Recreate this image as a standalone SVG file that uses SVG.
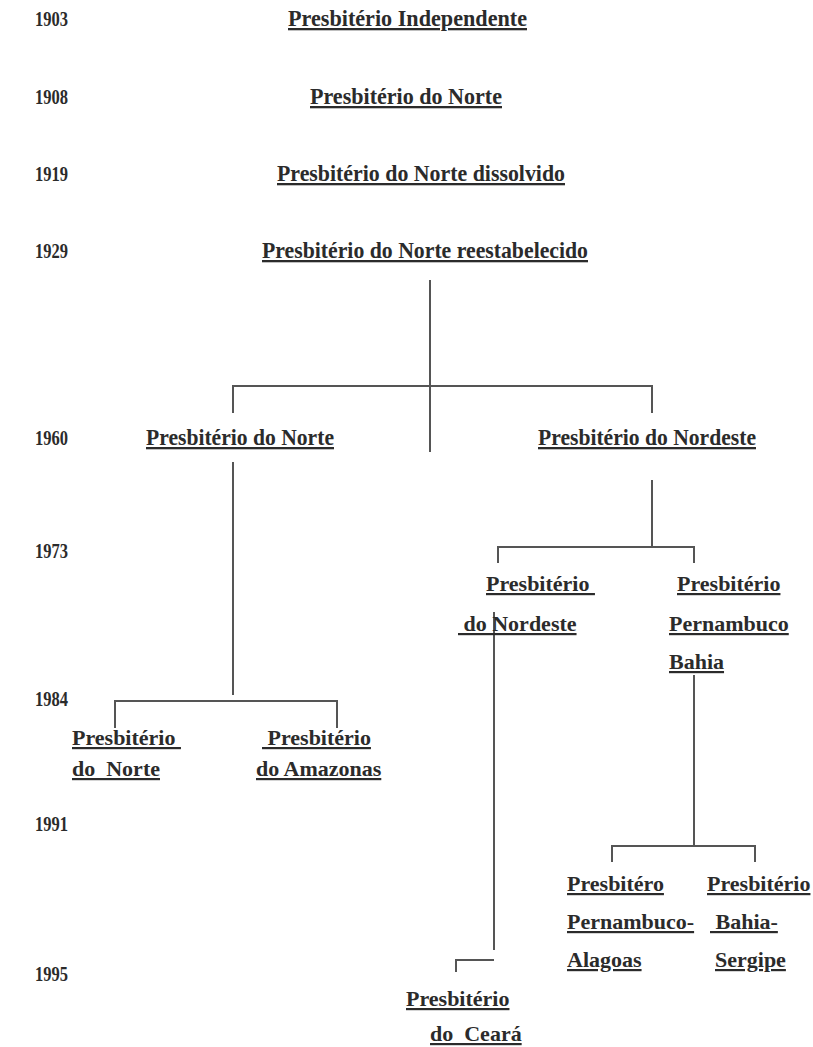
<svg xmlns="http://www.w3.org/2000/svg" width="813" height="1047" viewBox="0 0 813 1047">
<style>
.bg{fill:#ffffff}
.yr{font-family:"Liberation Serif","Times New Roman",serif;font-weight:bold;font-size:20px;fill:#2b2b2b}
.lb{font-family:"Liberation Serif","Times New Roman",serif;font-weight:bold;font-size:22px;fill:#2b2b2b;text-decoration:underline;text-decoration-thickness:2px;white-space:pre}
.big{font-size:23px}
.c{fill:none;stroke:#555555;stroke-width:2}
</style>
<rect class="bg" x="0" y="0" width="813" height="1047"/>
<g id="years">
<text class="yr" x="35" y="26" textLength="33" lengthAdjust="spacingAndGlyphs">1903</text>
<text class="yr" x="35" y="104" textLength="33" lengthAdjust="spacingAndGlyphs">1908</text>
<text class="yr" x="35" y="181" textLength="33" lengthAdjust="spacingAndGlyphs">1919</text>
<text class="yr" x="35" y="258" textLength="33" lengthAdjust="spacingAndGlyphs">1929</text>
<text class="yr" x="35" y="445" textLength="33" lengthAdjust="spacingAndGlyphs">1960</text>
<text class="yr" x="35" y="558" textLength="33" lengthAdjust="spacingAndGlyphs">1973</text>
<text class="yr" x="35" y="706" textLength="33" lengthAdjust="spacingAndGlyphs">1984</text>
<text class="yr" x="35" y="831" textLength="33" lengthAdjust="spacingAndGlyphs">1991</text>
<text class="yr" x="35" y="981" textLength="33" lengthAdjust="spacingAndGlyphs">1995</text>
</g>
<g id="connectors">
<path class="c" d="M430,280 V452"/>
<path class="c" d="M233,413 V386 H652 V413"/>
<path class="c" d="M233,462 V695"/>
<path class="c" d="M115,728 V701 H337 V728"/>
<path class="c" d="M652,480 V547"/>
<path class="c" d="M498,563 V547 H694 V563"/>
<path class="c" d="M494,612 V950"/>
<path class="c" d="M456,972 V960 H494"/>
<path class="c" d="M694,675 V846"/>
<path class="c" d="M612,862 V846 H755 V862"/>
</g>
<g id="n1903"><text class="lb big" x="288" y="26" textLength="239" lengthAdjust="spacingAndGlyphs">Presbitério Independente</text></g>
<g id="n1908"><text class="lb big" x="310" y="104" textLength="192" lengthAdjust="spacingAndGlyphs">Presbitério do Norte</text></g>
<g id="n1919"><text class="lb big" x="277" y="181" textLength="288" lengthAdjust="spacingAndGlyphs">Presbitério do Norte dissolvido</text></g>
<g id="n1929"><text class="lb big" x="262" y="258" textLength="326" lengthAdjust="spacingAndGlyphs">Presbitério do Norte reestabelecido</text></g>
<g id="n1960a"><text class="lb big" x="146" y="445" textLength="188" lengthAdjust="spacingAndGlyphs">Presbitério do Norte</text></g>
<g id="n1960b"><text class="lb big" x="538" y="445" textLength="218" lengthAdjust="spacingAndGlyphs">Presbitério do Nordeste</text></g>
<g id="n1973a">
<text class="lb" x="486" y="591">Presbitério </text>
<text class="lb" x="458" y="631"> do Nordeste</text>
</g>
<g id="n1973b">
<text class="lb" x="677" y="591">Presbitério</text>
<text class="lb" x="669" y="631">Pernambuco</text>
<text class="lb" x="669" y="669">Bahia</text>
</g>
<g id="n1984a">
<text class="lb" x="72" y="745">Presbitério </text>
<text class="lb" x="72" y="776">do  Norte</text>
</g>
<g id="n1984b">
<text class="lb" x="262" y="745"> Presbitério</text>
<text class="lb" x="256" y="776">do Amazonas</text>
</g>
<g id="n1991a">
<text class="lb" x="567" y="891">Presbitéro</text>
<text class="lb" x="567" y="929">Pernambuco-</text>
<text class="lb" x="567" y="967">Alagoas</text>
</g>
<g id="n1991b">
<text class="lb" x="707" y="891">Presbitério</text>
<text class="lb" x="710" y="929"> Bahia-</text>
<text class="lb" x="715" y="967">Sergipe</text>
</g>
<g id="n1995">
<text class="lb" x="406" y="1006">Presbitério</text>
<text class="lb" x="430" y="1041">do  Ceará</text>
</g>
</svg>
